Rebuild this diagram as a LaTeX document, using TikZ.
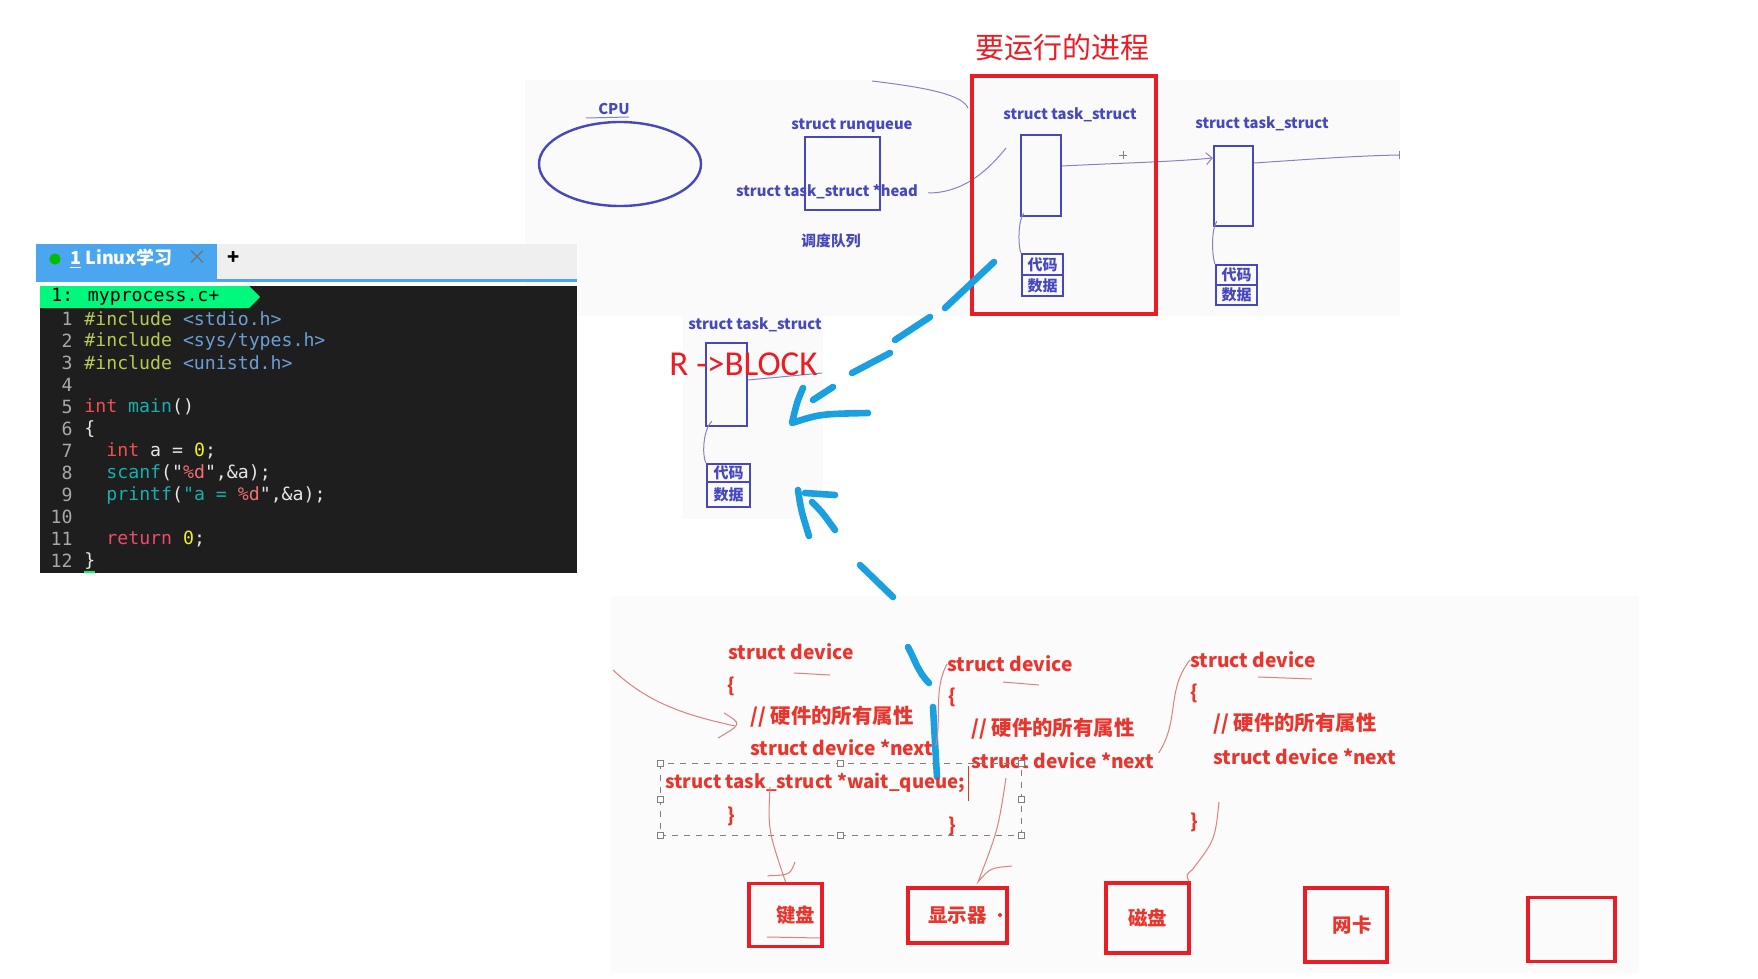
\documentclass[tikz,border=0pt]{standalone}
\usepackage{fontspec}
\usetikzlibrary{positioning,shapes.geometric,arrows.meta}
\newfontfamily\cjk{Noto Sans CJK SC}
\newfontfamily\mono{DejaVu Sans Mono}[Ligatures=TeXOff]
\newfontfamily\cali{Carlito}
\definecolor{wbblue}{HTML}{4747BE}
\definecolor{penblue}{HTML}{1AA0E0}
\definecolor{boxred}{HTML}{EC1C24}
\definecolor{devred}{HTML}{E8352D}
\definecolor{thinred}{HTML}{E08080}
\definecolor{thinblue}{HTML}{8484C4}
\definecolor{tabblue}{HTML}{4AA6EE}
\definecolor{tabgray}{HTML}{EFEFEF}
\definecolor{codebg}{HTML}{1E1E1E}
\definecolor{statgreen}{HTML}{00F87C}
\definecolor{cinc}{HTML}{B9C94E}
\definecolor{chdr}{HTML}{6B9FD4}
\definecolor{ckw}{HTML}{F24F4F}
\definecolor{cret}{HTML}{F04A6A}
\definecolor{cfn}{HTML}{14AFAF}
\definecolor{cnum}{HTML}{F0F020}
\definecolor{cstr}{HTML}{F07070}
\definecolor{cplain}{HTML}{E6E6E6}
\definecolor{lngray}{HTML}{A8A8A8}

\begin{document}
\begin{tikzpicture}[x=0.5pt,y=-0.5pt,>={Straight Barb[length=3pt]},
    wb/.style={text=wbblue, font=\cjk\bfseries\fontsize{7.4}{9}\selectfont, inner sep=0pt},
    wbbox/.style={draw=wbblue, line width=1.2pt, inner sep=0pt},
    mem/.style={wbbox, minimum width=20.5pt, text=wbblue, font=\cjk\bfseries\fontsize{7.5}{8}\selectfont},
    dev/.style={text=devred, font=\cjk\bfseries\fontsize{9.6}{11}\selectfont, inner sep=0pt, anchor=west},
    note/.style={dev, font=\cjk\bfseries\fontsize{10.2}{12}\selectfont},
    devbox/.style={draw=boxred, line width=1.7pt, inner sep=0pt, text=devred, font=\cjk\bfseries\fontsize{9.7}{11}\selectfont},
    pen/.style={penblue, line width=3.3pt, line cap=round, line join=round},
    hair/.style={thinblue, line width=0.5pt},
    rhair/.style={thinred, line width=0.5pt},
    code/.style={font=\mono\fontsize{9.1}{11}\selectfont, inner sep=0pt, anchor=west, text=cplain},
    lnum/.style={code, anchor=east, text=lngray},
    handle/.style={draw=gray, fill=white, line width=0.4pt, minimum size=3pt, inner sep=0pt}]
\useasboundingbox (0,0) rectangle (1758,979);

% screenshot panels
\fill[gray!4] (525,80) rectangle (1400,316);
\fill[gray!4] (683,314) rectangle (823,519);
\fill[gray!3] (611,596) rectangle (1639,973);

% editor
\fill[tabgray] (36,244) rectangle (577,280);
\fill[tabblue] (36,244) rectangle (217,280);
\fill[tabblue] (36,279) rectangle (577,282);
\fill[green!75!black] (55,259) circle [radius=2.8pt];
\node[anchor=west, inner sep=0pt, text=white, font=\cjk\bfseries\fontsize{9}{10}\selectfont] (tab) at (70,259) {\underline{1} Linux学习};
\node[inner sep=0pt, text=gray!90!black, font=\cjk\fontsize{10}{10}\selectfont] (tabx) at (197,258) {×};
\node[inner sep=0pt, font=\cjk\bfseries\fontsize{10}{10}\selectfont] (tabplus) at (234,258) {+};
\fill[codebg] (40,286) rectangle (577,573);
\fill[statgreen] (40,286) -- (249,286) -- (260,297) -- (249,308) -- (40,308) -- cycle;
\node[code, text=black] (stat) at (51,297) {1: myprocess.c+};
\foreach \n in {1,...,12}
  \node[lnum] (n\n) at (73,{297+22*\n}) {\n};
\node[code] (c1) at (84,319) {\textcolor{cinc}{\#include} \textcolor{chdr}{<stdio.h>}};
\node[code] (c2) at (84,341) {\textcolor{cinc}{\#include} \textcolor{chdr}{<sys/types.h>}};
\node[code] (c3) at (84,363) {\textcolor{cinc}{\#include} \textcolor{chdr}{<unistd.h>}};
\node[code] (c5) at (84,407) {\textcolor{ckw}{int} \textcolor{cfn}{main}()};
\node[code] (c6) at (84,429) {\{};
\node[code] (c7) at (106,451) {\textcolor{ckw}{int} a = \textcolor{cnum}{0};};
\node[code] (c8) at (106,473) {\textcolor{cfn}{scanf}("\textcolor{cstr}{\%d}",\&a);};
\node[code] (c9) at (106,495) {\textcolor{cfn}{printf}(\textcolor{cfn}{"a = }\textcolor{cstr}{\%d}",\&a);};
\node[code] (c11) at (106,539) {\textcolor{cret}{return} \textcolor{cnum}{0};};
\node[code] (c12) at (84,561) {\}};
\fill[statgreen] (84,571) rectangle (95,573);

% run queue whiteboard
\node[draw=wbblue, line width=1.2pt, ellipse, minimum width=81pt, minimum height=42pt, inner sep=0pt] (cpu) at (620,164) {};
\node[wb] (cpulbl) at (614,109) {CPU};
\draw[hair] (586,118) -- (629,117);
\node[wbbox, minimum width=37.5pt, minimum height=36.5pt] (rq) at (842.5,173.5) {};
\node[wb] (rqlbl) at (852,126) {struct runqueue};
\node[wb] (head) at (827,192) {struct task\_struct *head};
\node[wb] (sched) at (831,241) {调度队列};
\node[wbbox, minimum width=20pt, minimum height=40.5pt] (t1) at (1041,175.5) {};
\node[wb] (t1lbl) at (1070,115) {struct task\_struct};
\node[mem, minimum height=10.5pt] (t1c) at (1042.5,264.5) {代码};
\node[mem, minimum height=10.5pt] (t1d) at (1042.5,285.5) {数据};
\node[wbbox, minimum width=19.5pt, minimum height=40pt] (t2) at (1233.5,186) {};
\node[wb] (t2lbl) at (1262,124) {struct task\_struct};
\node[mem, minimum height=10pt] (t2c) at (1236.5,275) {代码};
\node[mem, minimum height=10pt] (t2d) at (1236.5,295) {数据};
\coordinate (t1in) at (1006,148);
\coordinate (qend) at (1399,155);
\draw[hair] (head.east) ++(10,1) .. controls (965,193) and (990,168) .. (t1in);
\draw[hair] (872,81) .. controls (930,88) and (962,95) .. (968,108);
\draw[hair,->] (t1.east |- 0,166) .. controls (1120,163) and (1170,162) .. (t2.west |- 0,158);
\draw[hair] (t2.east |- 0,163) .. controls (1300,160) and (1350,156) .. (qend);
\draw[hair] (qend) ++(0,-4) -- ++(0,8);
\draw[hair] (t1.south west) ++(4,-4) .. controls (1018,220) and (1018,245) .. (t1c.north west);
\draw[hair] (t2.south west) ++(4,-6) .. controls (1211,230) and (1212,255) .. (t2c.north west);
\draw[gray, line width=0.4pt] (1119,155) -- (1127,155) (1123,151) -- (1123,159);

% process to run
\node[draw=boxred, line width=2pt, minimum width=92pt, minimum height=119pt, inner sep=0pt] (run) at (1064,195) {};
\node[inner sep=0pt, text=boxred, font=\cjk\fontsize{14.5}{16}\selectfont] (runlbl) at (1062,47) {要运行的进程};

% blocked process
\node[wb] (t3lbl) at (755,325) {struct task\_struct};
\node[wbbox, minimum width=20.5pt, minimum height=41.5pt] (t3) at (726.5,384.5) {};
\node[mem, minimum width=21.5pt, minimum height=9pt] (t3c) at (728.5,473) {代码};
\node[mem, minimum width=21.5pt, minimum height=12.5pt] (t3d) at (728.5,494.5) {数据};
\draw[hair] (t3.east |- 0,380) -- (822,373);
\draw[hair] (t3.south west) ++(7,-6) .. controls (703,430) and (702,455) .. (t3c.north west);
\node[inner sep=0pt, text=boxred, font=\cali\fontsize{17.5}{20}\selectfont] (blk) at (743.5,364) {R ->BLOCK};

% pen strokes
\draw[pen] (994,262) -- (945,308);
\draw[pen] (930,317) -- (895,340);
\draw[pen] (890,353) -- (852,373);
\draw[pen] (833,387) -- (813,400);
\draw[pen] (803,388) .. controls (797,402) .. (792,423) .. controls (820,414) .. (868,413);
\draw[pen] (798,490) .. controls (801,510) .. (809,536);
\draw[pen] (805,493) -- (835,495);
\draw[pen] (812,502) .. controls (822,512) .. (835,530);
\draw[pen] (860,565) -- (893,597);
\draw[pen] (908,647) .. controls (915,660) and (918,672) .. (929,683);
\draw[pen] (933,707) -- (937,777);

% devices
\node[dev] (d1) at (728,652) {struct device};
\node[dev] (d1o) at (727,686) {\{};
\node[note] (d1a) at (750,717) {// 硬件的所有属性};
\node[dev] (d1n) at (750,748) {struct device *next};
\node[dev, font=\cjk\bfseries\fontsize{9.3}{11}\selectfont] (d1w) at (665,783) {struct task\_struct *wait\_queue;};
\node[dev] (d1e) at (727,816) {\}};
\node[dev] (d2) at (947,664) {struct device};
\node[dev] (d2o) at (948,697) {\{};
\node[note] (d2a) at (971,729) {// 硬件的所有属性};
\node[dev] (d2n) at (971,761) {struct device *next};
\node[dev] (d2e) at (948,826) {\}};
\node[dev] (d3) at (1190,660) {struct device};
\node[dev] (d3o) at (1190,693) {\{};
\node[note] (d3a) at (1213,724) {// 硬件的所有属性};
\node[dev] (d3n) at (1213,757) {struct device *next};
\node[dev] (d3e) at (1190,822) {\}};
\draw[rhair] (794,673) -- (830,675);
\draw[rhair] (1003,682) -- (1039,685);
\draw[rhair] (1258,677) -- (1312,679);

% selection box
\draw[gray, dashed, line width=0.5pt] (660,763) rectangle (1021,835);
\foreach \hx/\hy in {660/763,840/763,1021/763,660/799,1021/799,660/835,840/835,1021/835}
  \node[handle] at (\hx,\hy) {};
\draw[devred, line width=0.5pt] (d1w.east) ++(3,-17) -- ++(0,35);

\node[devbox, minimum width=36.5pt, minimum height=31.5pt] (kbd) at (785.5,915) {\hspace{10pt}键盘};
\node[devbox, minimum width=49.5pt, minimum height=27.5pt] (scr) at (957.5,915.5) {显示器\hspace{8pt}};
\node[devbox, minimum width=41.5pt, minimum height=35pt] (disk) at (1147.5,918) {磁盘};
\node[devbox, minimum width=41pt, minimum height=37pt] (nic) at (1346,925) {\hspace{6pt}网卡};
\node[devbox, minimum width=43.5pt, minimum height=32pt] (spare) at (1571.5,929.5) {};
\fill[devred] (1000,915) circle [radius=1pt];
\draw[rhair] (767,937) -- (820,938);

% pointers
\draw[rhair] (613,670) .. controls (650,705) and (690,716) .. (735,726);
\draw[rhair] (724,713) .. controls (742,724) .. (718,738);
\draw[rhair] (d1n.east) ++(2,-2) .. controls (942,720) and (933,690) .. (d2.west);
\draw[rhair] (d2n.east) ++(4,-8) .. controls (1180,720) and (1166,690) .. (d3.west);
\draw[rhair] (770,787) .. controls (768,830) .. (kbd.north) ++(-18,-6) .. controls (790,875) .. (795,862);
\draw[rhair] (1006,778) .. controls (998,830) .. (978,882) .. controls (990,868) .. (1012,866);
\draw[rhair] (1219,802) .. controls (1215,840) .. (1192,870) .. controls (1186,875) .. (disk.north -| 1189,0);
\end{tikzpicture}
\end{document}
